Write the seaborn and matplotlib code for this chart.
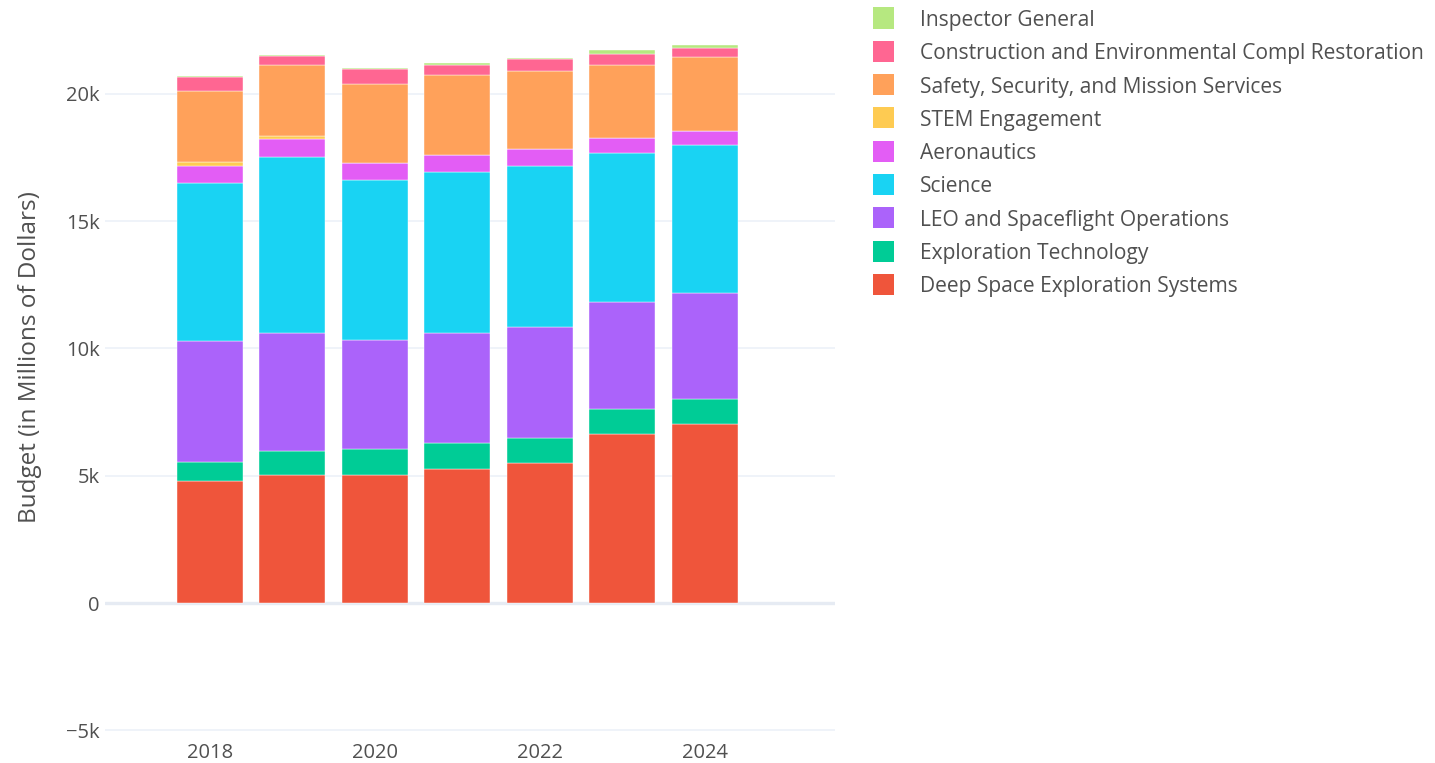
import numpy as np
import pandas as pd
import matplotlib
matplotlib.use("Agg")
import matplotlib.pyplot as plt
from matplotlib.patches import Rectangle
import seaborn as sns

# ---------------- data ----------------
years = [2018, 2019, 2020, 2021, 2022, 2023, 2024]
categories = [
    "Inspector General",
    "Construction and Environmental Compl Restoration",
    "Safety, Security, and Mission Services",
    "STEM Engagement",
    "Aeronautics",
    "Science",
    "LEO and Spaceflight Operations",
    "Exploration Technology",
    "Deep Space Exploration Systems",
]
deep_space = [4780, 5030, 5020, 5265, 5490, 6625, 7030]
exploration_tech = [770, 930, 1015, 1010, 1005, 980, 970]
leo_ops = [4740, 4660, 4285, 4345, 4345, 4230, 4165]
science = [6220, 6900, 6305, 6325, 6325, 5850, 5825]
aeronautics = [655, 695, 665, 670, 680, 590, 565]
stem = [140, 140, 0, 0, 0, 0, 0]
ssms = [2815, 2775, 3085, 3130, 3065, 2855, 2895]
cecr = [550, 340, 600, 405, 440, 445, 340]
inspector = [40, 40, 42, 43, 44, 140, 130]
colors = ["#B6E880", "#FF6692", "#FFA15A", "#FECB52", "#E35DF5",
          "#19D3F3", "#AB63FA", "#00CC96", "#EF553B"]
y_ticks = [-5000, 0, 5000, 10000, 15000, 20000]
y_tick_labels = ["\u22125k", "0", "5k", "10k", "15k", "20k"]
x_ticks = [2018, 2020, 2022, 2024]
y_label = "Budget (in Millions of Dollars)"

series = [inspector, cecr, ssms, stem, aeronautics, science, leo_ops,
          exploration_tech, deep_space]
rows = []
for cat, vals in zip(categories, series):
    for yr, v in zip(years, vals):
        rows.append({"year": yr, "category": cat, "value": v})
df = pd.DataFrame(rows)

# ---------------- style ----------------
sns.set_style("white")
plt.rcParams["font.family"] = ["Open Sans", "DejaVu Sans"]
TXT = "#505050"
FS = 14.5
FS_LEG = 15.1
FS_YLAB = 17.5

W, H = 1435, 763
fig = plt.figure(figsize=(W / 100, H / 100), dpi=100)
ax = fig.add_axes([105 / W, (H - 733) / H, 730 / W, 705 / H])

sns.histplot(data=df, x="year", weights="value", hue="category",
             hue_order=categories, palette=colors, multiple="stack",
             discrete=True, shrink=0.8, alpha=1, linewidth=0.3,
             edgecolor="white", legend=False, ax=ax, zorder=2)

ax.set_xlim(2016.73, 2025.58)
ax.set_ylim(-5106, 22586)
ax.set_yticks(y_ticks)
ax.set_yticklabels(y_tick_labels)
ax.set_xticks(x_ticks)
ax.set_xticklabels([str(x) for x in x_ticks])
ax.tick_params(axis="both", length=0, labelsize=FS, labelcolor=TXT)
ax.tick_params(axis="x", pad=7)
ax.tick_params(axis="y", pad=4)
ax.set_axisbelow(True)
ax.yaxis.grid(True, color="#EBF0F8", linewidth=1.1)
ax.xaxis.grid(False)
ax.axhline(0, color="#E6EBF3", linewidth=2.4, zorder=1)
for s in ax.spines.values():
    s.set_visible(False)
ax.set_xlabel("")
ax.set_ylabel(y_label, fontsize=FS_YLAB, color=TXT)
ax.yaxis.set_label_coords(-0.086, 0.533)

# ---------------- legend ----------------
lx_sq, lx_txt = 873, 920
y0, pitch, sq = 18, 33.3, 21
for i, (cat, c) in enumerate(zip(categories, colors)):
    yc = y0 + i * pitch
    fig.add_artist(Rectangle((lx_sq / W, 1 - (yc + sq / 2) / H), sq / W, sq / H,
                             transform=fig.transFigure, facecolor=c,
                             edgecolor="none"))
    fig.text(lx_txt / W, 1 - yc / H, cat, fontsize=FS_LEG, color=TXT,
             ha="left", va="center_baseline")

fig.savefig("out.png", dpi=100)
